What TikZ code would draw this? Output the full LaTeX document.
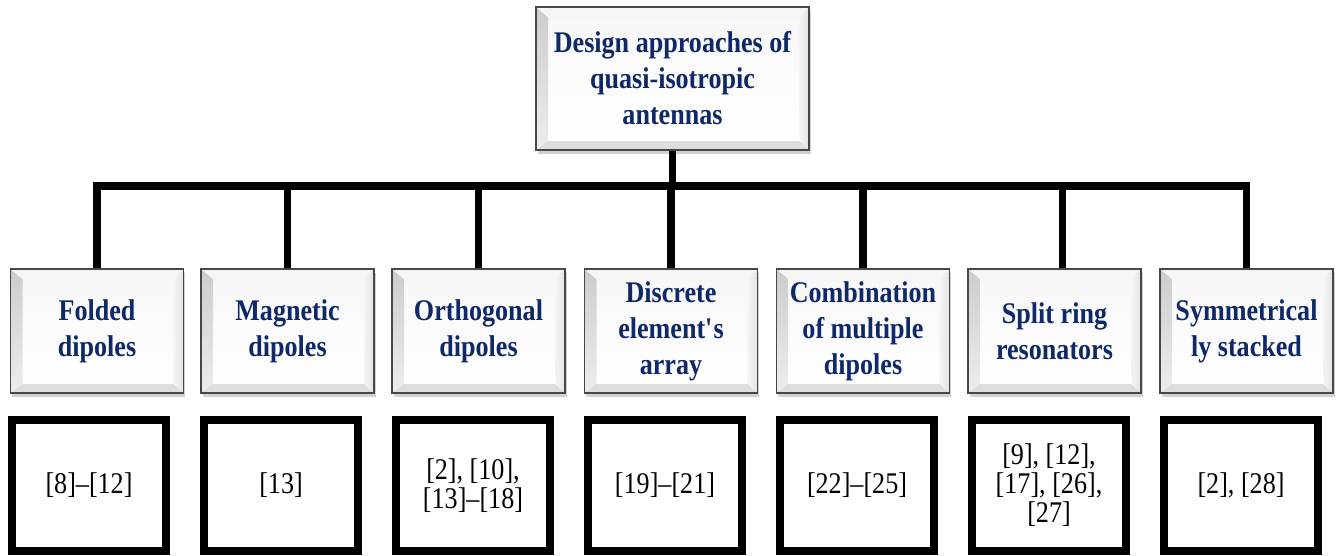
\documentclass[tikz,border=0pt]{standalone}
\usepackage{fontspec}
\setmainfont{Liberation Serif}[FakeStretch=0.87]
\usetikzlibrary{shadows}
\definecolor{navy}{RGB}{14,40,104}
\tikzset{
  bevelbox/.style={draw=black!72, line width=1.4pt, fill=white,
    align=center, text=navy, font=\bfseries\fontsize{30}{36}\selectfont,
    inner sep=0pt,
    drop shadow={shadow xshift=1.5pt, shadow yshift=-4pt, opacity=0.3, fill=black!60},
    path picture={
      \path (path picture bounding box.south west) coordinate (pSW)
            (path picture bounding box.north east) coordinate (pNE)
            (path picture bounding box.north west) coordinate (pNW)
            (path picture bounding box.south east) coordinate (pSE);
      \shade[top color=black!3, bottom color=white] ([xshift=12pt,yshift=9pt]pSW) rectangle ([xshift=-10pt,yshift=-10pt]pNE);
      \shade[top color=black!20, bottom color=black!7] (pNW) -- (pSW) -- ([xshift=12pt,yshift=9pt]pSW) -- ([xshift=12pt,yshift=-10pt]pNW) -- cycle;
      \fill[black!4] (pNW) -- (pNE) -- ([xshift=-10pt,yshift=-10pt]pNE) -- ([xshift=12pt,yshift=-10pt]pNW) -- cycle;
      \shade[left color=black!4, right color=black!11] (pNE) -- (pSE) -- ([xshift=-10pt,yshift=9pt]pSE) -- ([xshift=-10pt,yshift=-10pt]pNE) -- cycle;
      \fill[black!13] (pSW) -- (pSE) -- ([xshift=-10pt,yshift=9pt]pSE) -- ([xshift=12pt,yshift=9pt]pSW) -- cycle;
    }},
  catbox/.style={bevelbox, minimum width=173pt, minimum height=124pt},
  topbox/.style={bevelbox, minimum width=273pt, minimum height=143pt},
  refbox/.style={draw=black, line width=8pt, fill=white, minimum width=154pt, minimum height=131pt,
    align=center, inner sep=0pt, font=\fontsize{30}{29}\selectfont},
  conn/.style={line width=7.5pt, line join=miter, draw=black},
}
\begin{document}
\begin{tikzpicture}[x=1pt, y=-1pt]
\useasboundingbox (0,0) rectangle (1339,555);

\node[topbox] (top) at (672.5,78.5) {Design approaches of\\quasi-isotropic\\antennas};

\node[catbox] (c1) at (97,331)    {Folded\\dipoles};
\node[catbox] (c2) at (287.5,331) {Magnetic\\dipoles};
\node[catbox] (c3) at (478.5,331) {Orthogonal\\dipoles};
\node[catbox] (c4) at (671,331)   {Discrete\\element\textquotesingle s\\array};
\node[catbox] (c5) at (863,331)   {Combination\\of multiple\\dipoles};
\node[catbox] (c6) at (1054.5,331) {Split ring\\resonators};
\node[catbox] (c7) at (1246.5,331) {Symmetrical\\ly stacked};

\coordinate (bar) at (672.5,186);
\draw[conn] (c1.north) |- (bar) -| (c7.north);
\draw[conn] (top.south) -- (top.south |- bar);
\foreach \n in {c2,c3,c4,c5} { \draw[conn] (\n.north) -- (\n.north |- bar); }
\draw[conn] ([xshift=8pt]c6.north) -- ([xshift=8pt]c6.north |- bar);

\node[refbox] (r1) at (89,485.5)   {[8]--[12]};
\node[refbox] (r2) at (281,485.5)  {[13]};
\node[refbox] (r3) at (473,485.5)  {[2], [10],\\[0pt][13]--[18]};
\node[refbox] (r4) at (665,485.5)  {[19]--[21]};
\node[refbox] (r5) at (857,485.5)  {[22]--[25]};
\node[refbox] (r6) at (1049,485.5) {[9], [12],\\[0pt][17], [26],\\[0pt][27]};
\node[refbox] (r7) at (1241,485.5) {[2], [28]};
\end{tikzpicture}
\end{document}
